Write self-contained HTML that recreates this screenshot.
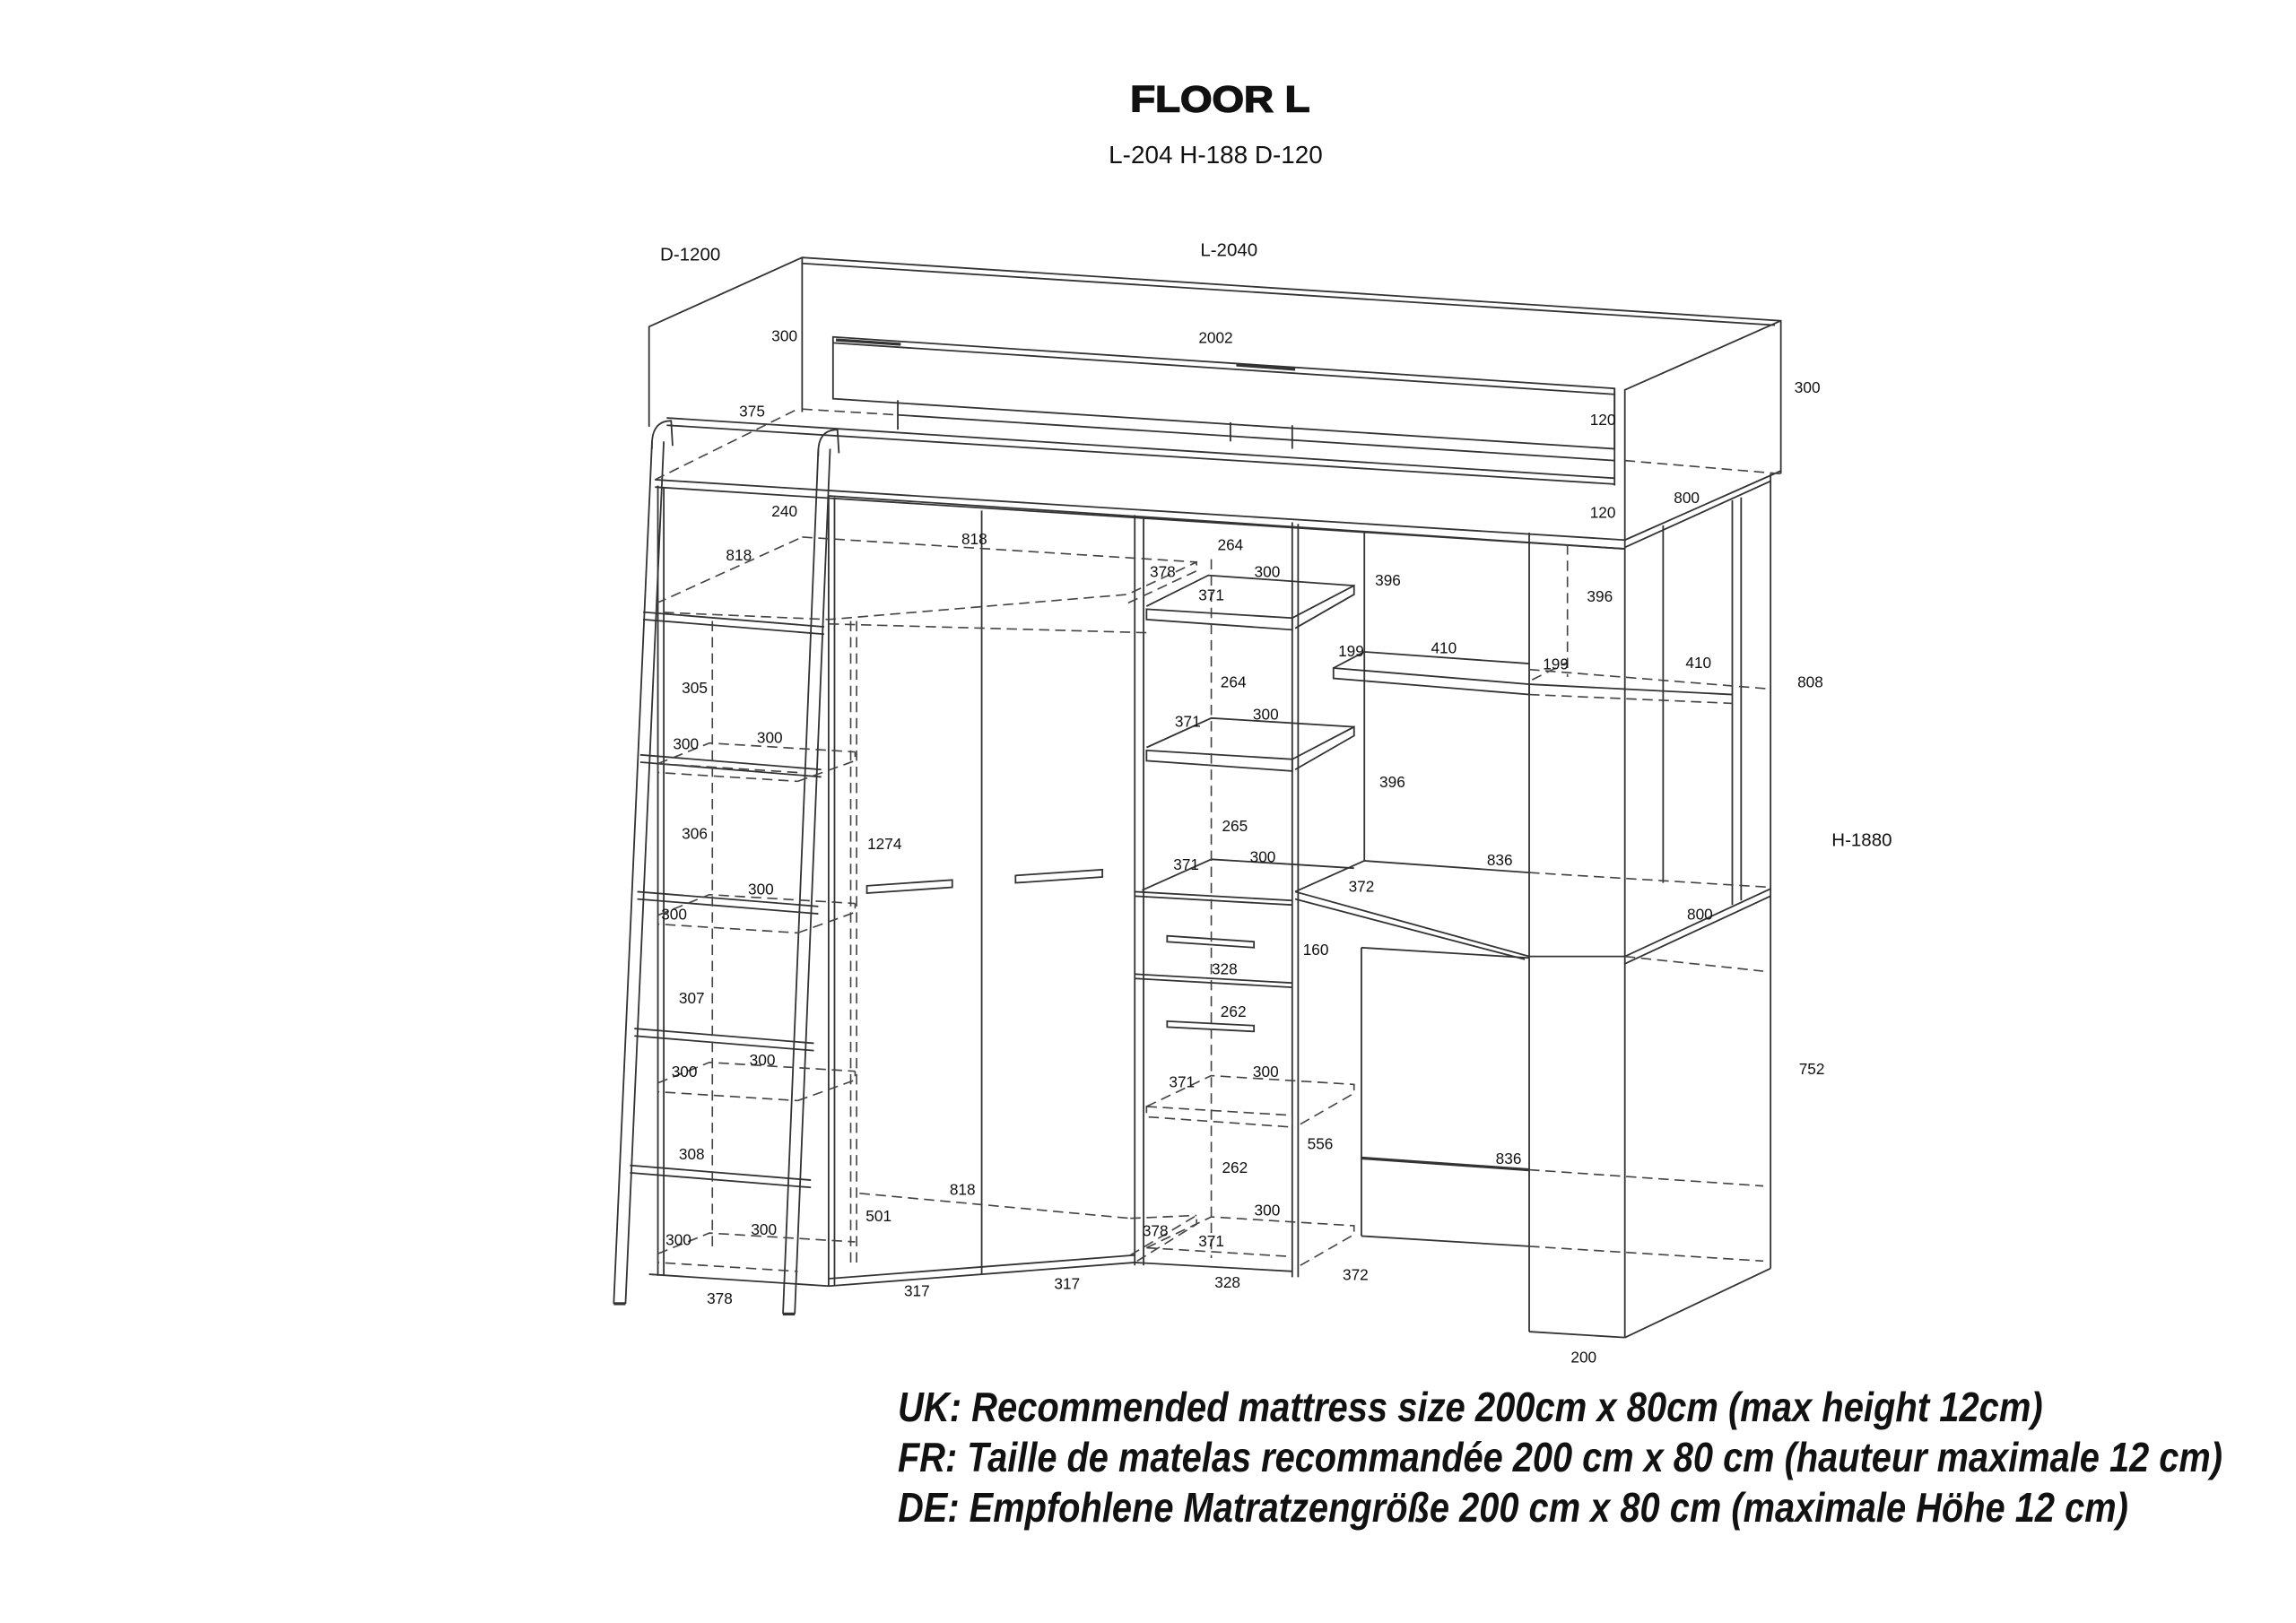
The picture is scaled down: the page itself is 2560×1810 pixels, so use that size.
<!DOCTYPE html>
<html><head><meta charset="utf-8"><style>
html,body{margin:0;padding:0;background:#fff}
svg{display:block}
text{font-family:"Liberation Sans",Arial,sans-serif;fill:#111}
.l{font-size:10.5px}
</style></head><body>
<svg width="2560" height="1810" viewBox="0 0 1560 1103" preserveAspectRatio="none" xmlns="http://www.w3.org/2000/svg">
<rect width="1560" height="1103" fill="#fff"/>
<text x="829" y="76" text-anchor="middle" font-size="25" font-weight="bold" stroke="#111" stroke-width="0.9" textLength="122" lengthAdjust="spacingAndGlyphs">FLOOR L</text>
<text x="826" y="111" text-anchor="middle" font-size="17">L-204 H-188 D-120</text>
<text x="469" y="177" text-anchor="middle" font-size="12.5">D-1200</text>
<text x="835" y="174" text-anchor="middle" font-size="12.5">L-2040</text>
<text x="1265" y="575" text-anchor="middle" font-size="12.5">H-1880</text>

<g fill="none" stroke="#333" stroke-width="1.1">
<polyline points="441,290 441,222 545,175 1210,218 1210,322"/>
<line x1="545" y1="179" x2="1206" y2="221"/>
<line x1="545" y1="175" x2="545" y2="280"/>
<polyline points="1104,373 1104,265 1210,218"/>
<line x1="1097" y1="264" x2="1097" y2="330"/>
<polygon points="566,229 1097,264 1097,305 566,271"/>
<line x1="566" y1="233" x2="1097" y2="268"/>
<line x1="568" y1="231" x2="612" y2="234" stroke-width="2"/>
<line x1="840" y1="248" x2="880" y2="251" stroke-width="2"/>
<line x1="610" y1="282" x2="1097" y2="313"/>
<line x1="610" y1="272" x2="610" y2="292"/>
<line x1="836" y1="287" x2="836" y2="300"/>
<line x1="878" y1="289" x2="878" y2="305"/>
<line x1="453" y1="284" x2="1097" y2="325"/>
<line x1="453" y1="289" x2="1097" y2="329"/>
<line x1="445" y1="326" x2="1104" y2="367"/>
<line x1="445" y1="331" x2="1104" y2="373"/>
<line x1="563" y1="337" x2="1104" y2="373"/>
<line x1="1104" y1="373" x2="1104" y2="909"/>
<line x1="1104" y1="367" x2="1210" y2="320"/>
<line x1="1104" y1="372" x2="1203" y2="327"/>
<line x1="1203" y1="322" x2="1203" y2="862"/>
<line x1="1104" y1="909" x2="1203" y2="862"/>
<line x1="1039" y1="362" x2="1039" y2="905"/>
<line x1="1039" y1="905" x2="1104" y2="909"/>
<line x1="1177" y1="340" x2="1177" y2="615"/>
<line x1="1183" y1="338" x2="1183" y2="612"/>
<line x1="1130" y1="357" x2="1130" y2="600"/>
<line x1="447" y1="330" x2="447" y2="867"/>
<line x1="451" y1="331" x2="451" y2="867"/>
<line x1="441" y1="866" x2="563" y2="874"/>
<line x1="563" y1="337" x2="563" y2="874"/>
<line x1="567" y1="338" x2="567" y2="874"/>
<line x1="667" y1="347" x2="667" y2="866"/>
<line x1="771" y1="350" x2="771" y2="860"/>
<line x1="777" y1="351" x2="777" y2="860"/>
<line x1="563" y1="869" x2="771" y2="853"/>
<line x1="563" y1="874" x2="771" y2="858"/>
<polygon points="589,602 647,598 647,603 589,607"/>
<polygon points="690,595 749,591 749,596 690,600"/>
<line x1="878" y1="355" x2="878" y2="868"/>
<line x1="882" y1="356" x2="882" y2="868"/>
<polyline points="779,412 821,391 920,398"/>
<polygon points="779,414 878,420 878,428 779,421"/>
<polyline points="878,420 920,398 920,404 880,427"/>
<polyline points="779,508 823,488 920,494"/>
<polygon points="779,510 878,516 878,524 779,517"/>
<polyline points="878,516 920,494 920,500 880,523"/>
<polyline points="776,605 823,584 920,590"/>
<line x1="771" y1="606" x2="878" y2="612"/>
<line x1="771" y1="609" x2="878" y2="615"/>
<line x1="771" y1="662" x2="878" y2="668"/>
<line x1="771" y1="665" x2="878" y2="671"/>
<polygon points="793,636 852,640 852,644 793,640"/>
<polygon points="793,694 852,697 852,701 793,698"/>
<line x1="771" y1="858" x2="878" y2="864"/>
<line x1="927" y1="362" x2="927" y2="585"/>
<line x1="925" y1="644" x2="925" y2="840"/>
<polyline points="906,454 927,443 1039,451"/>
<polygon points="906,454 1039,465 1039,472 906,461"/>
<line x1="1039" y1="465" x2="1177" y2="472"/>
<polyline points="880,606 927,585 1039,593"/>
<polyline points="880,606 1039,650 1104,650 1203,604"/>
<line x1="880" y1="611" x2="1036" y2="652"/>
<line x1="925" y1="644" x2="1039" y2="651"/>
<line x1="1104" y1="655" x2="1203" y2="609"/>
<line x1="925" y1="787" x2="1039" y2="795" stroke-width="2"/>
<line x1="925" y1="840" x2="1039" y2="847"/>
<line x1="443" y1="300" x2="417" y2="886"/>
<line x1="451" y1="300" x2="425" y2="886"/>
<line x1="556" y1="305" x2="532" y2="893"/>
<line x1="564" y1="305" x2="540" y2="893"/>
<path d="M443,305 Q442,286 456,286 L457,303"/>
<path d="M556,310 Q555,292 569,292 L570,308"/>
<line x1="417" y1="886" x2="425" y2="886" stroke-width="2"/>
<line x1="532" y1="893" x2="540" y2="893" stroke-width="2"/>
</g>
<g stroke="#333" stroke-width="1.1" fill="none">
<polyline points="437,416 560,426"/><polyline points="437,421 560,431"/>
<polyline points="435,513 558,523"/><polyline points="435,518 558,528"/>
<polyline points="433,606 556,616"/><polyline points="433,611 556,621"/>
<polyline points="431,699 553,709"/><polyline points="431,704 553,714"/>
<polyline points="428,792 551,802"/><polyline points="428,797 551,807"/>
</g>
<g fill="none" stroke="#444" stroke-width="1" stroke-dasharray="7 4">
<line x1="445" y1="326" x2="542" y2="278"/>
<line x1="545" y1="278" x2="610" y2="282"/>
<line x1="446" y1="410" x2="545" y2="365"/>
<line x1="545" y1="365" x2="813" y2="382"/>
<polyline points="446,410 446,416 563,421 766,404 813,382 813,388 766,410"/>
<line x1="563" y1="424" x2="779" y2="430"/>
<line x1="484" y1="422" x2="484" y2="848"/>
<line x1="578" y1="422" x2="578" y2="862"/>
<line x1="582" y1="422" x2="582" y2="862"/>
<polyline points="447,519 482,505 581,511"/>
<polyline points="447,519 447,525 542,531"/>
<line x1="447" y1="519" x2="542" y2="525"/>
<polyline points="542,531 581,517 581,511"/>
<polyline points="447,622 482,608 581,614"/>
<polyline points="447,622 447,628 542,634"/>
<polyline points="542,634 581,620 581,614"/>
<polyline points="447,736 482,722 581,728"/>
<polyline points="447,736 447,742 542,748"/>
<polyline points="542,748 581,734 581,728"/>
<polyline points="447,852 482,838 581,844"/>
<polyline points="447,852 447,858 542,864"/>
<line x1="584" y1="811" x2="768" y2="828"/>
<line x1="768" y1="828" x2="813" y2="826"/>
<polyline points="768,853 813,826 813,832 771,858"/>
<polyline points="779,752 823,731 920,737 920,743 880,766"/>
<polygon points="779,752 878,758 878,766 779,759"/>
<polyline points="779,848 823,827 920,833 920,839 880,862"/>
<line x1="779" y1="848" x2="878" y2="854"/>
<line x1="823" y1="380" x2="823" y2="855"/>
<line x1="1039" y1="593" x2="1203" y2="603"/>
<line x1="1104" y1="650" x2="1198" y2="660"/>
<line x1="1039" y1="455" x2="1200" y2="468"/>
<line x1="1039" y1="472" x2="1177" y2="478"/>
<line x1="1041" y1="462" x2="1065" y2="450"/>
<line x1="1065" y1="370" x2="1065" y2="460"/>
<line x1="1039" y1="795" x2="1198" y2="806"/>
<line x1="1039" y1="847" x2="1198" y2="857"/>
<line x1="1104" y1="313" x2="1210" y2="322"/>
</g>

<g class="l" text-anchor="middle">
<text x="533" y="232">300</text><text x="826" y="233">2002</text><text x="1228" y="267">300</text>
<text x="511" y="283">375</text><text x="1089" y="289">120</text><text x="1089" y="352">120</text>
<text x="1146" y="342">800</text><text x="533" y="351">240</text><text x="502" y="381">818</text>
<text x="662" y="370">818</text><text x="836" y="374">264</text><text x="790" y="392">378</text>
<text x="861" y="392">300</text><text x="823" y="408">371</text><text x="943" y="398">396</text>
<text x="1087" y="409">396</text><text x="918" y="446">199</text><text x="981" y="444">410</text>
<text x="1057" y="455">199</text><text x="1154" y="454">410</text><text x="1230" y="467">808</text>
<text x="472" y="471">305</text><text x="838" y="467">264</text><text x="807" y="494">371</text>
<text x="860" y="489">300</text><text x="466" y="509">300</text><text x="523" y="505">300</text>
<text x="946" y="535">396</text><text x="472" y="570">306</text><text x="839" y="565">265</text>
<text x="601" y="577">1274</text><text x="806" y="591">371</text><text x="858" y="586">300</text>
<text x="1019" y="588">836</text><text x="925" y="606">372</text><text x="517" y="608">300</text>
<text x="458" y="625">300</text><text x="1155" y="625">800</text><text x="894" y="649">160</text>
<text x="832" y="662">328</text><text x="470" y="682">307</text><text x="838" y="691">262</text>
<text x="1231" y="730">752</text><text x="803" y="739">371</text><text x="860" y="732">300</text>
<text x="518" y="724">300</text><text x="465" y="732">300</text><text x="897" y="781">556</text>
<text x="839" y="797">262</text><text x="1025" y="791">836</text><text x="470" y="788">308</text>
<text x="654" y="812">818</text><text x="597" y="830">501</text><text x="861" y="826">300</text>
<text x="785" y="840">378</text><text x="823" y="847">371</text><text x="461" y="846">300</text>
<text x="519" y="839">300</text><text x="489" y="886">378</text><text x="623" y="881">317</text>
<text x="725" y="876">317</text><text x="834" y="875">328</text><text x="921" y="870">372</text>
<text x="1076" y="926">200</text>
</g>

<g font-size="28" font-weight="bold" font-style="italic">
<text x="610" y="966" textLength="778" lengthAdjust="spacingAndGlyphs">UK: Recommended mattress size 200cm x 80cm (max height 12cm)</text>
<text x="610" y="1000" textLength="900" lengthAdjust="spacingAndGlyphs">FR: Taille de matelas recommandée 200 cm x 80 cm (hauteur maximale 12 cm)</text>
<text x="610" y="1034" textLength="836" lengthAdjust="spacingAndGlyphs">DE: Empfohlene Matratzengröße 200 cm x 80 cm (maximale Höhe 12 cm)</text>
</g>
</svg>
</body></html>
